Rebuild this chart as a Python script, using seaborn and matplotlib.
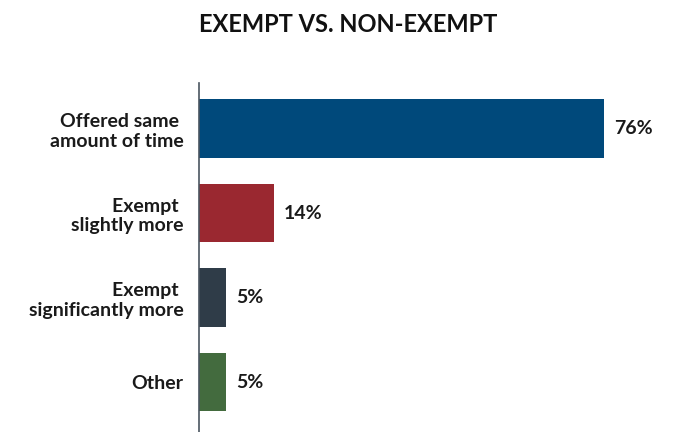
import matplotlib
matplotlib.use("Agg")
import matplotlib.pyplot as plt
import seaborn as sns
import pandas as pd

# data
categories = ["Offered same \namount of time", "Exempt \nslightly more",
              "Exempt \nsignificantly more", "Other"]
values = [76, 14, 5, 5]
colors = ["#00497b", "#9a2830", "#2f3c48", "#436b3e"]

df = pd.DataFrame({"cat": categories, "val": values})

sns.set_style("white")
plt.rcParams["font.family"] = ["Lato", "DejaVu Sans"]

fig = plt.figure(figsize=(6.76, 4.32), dpi=100)
ax = fig.add_axes([199 / 676, 0.0, 0.67, 0.808])

sns.barplot(data=df, x="val", y="cat", hue="cat", palette=colors,
            legend=False, width=0.69, ax=ax, saturation=1, linewidth=0)

ax.set_xlim(0, 85)
ax.set_ylim(3.59, -0.54)
ax.set_xlabel("")
ax.set_ylabel("")
ax.set_xticks([])
ax.tick_params(axis="y", length=0, pad=11)
for lab in ax.get_yticklabels():
    lab.set_fontsize(14)
    lab.set_fontweight("bold")
    lab.set_color("#1a1a1a")
    lab.set_multialignment("right")
    lab.set_linespacing(1.2)

for s in ["top", "right", "bottom"]:
    ax.spines[s].set_visible(False)
ax.spines["left"].set_color("#4a5560")
ax.spines["left"].set_linewidth(1.2)

for i, v in enumerate(values):
    ax.text(v + 1.9, i, f"{v}%", va="center", ha="left",
            fontsize=14, fontweight="bold", color="#1a1a1a")

fig.text(348 / 676, 1 - 24 / 432, "EXEMPT VS. NON-EXEMPT", ha="center",
         va="center", fontsize=17, fontweight="bold", color="#111111")

fig.savefig("out.png", dpi=100)
